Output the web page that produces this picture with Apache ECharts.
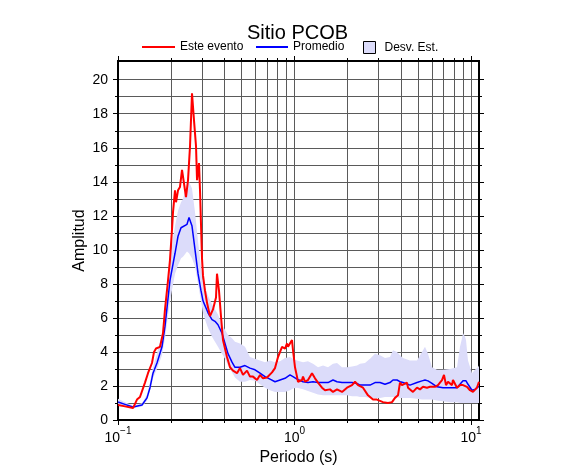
<!DOCTYPE html>
<html>
<head>
<meta charset="utf-8">
<script src="https://cdn.jsdelivr.net/npm/echarts@6/dist/echarts.min.js"></script>
<style>html,body{margin:0;padding:0;background:#fff;}#c{width:586px;height:475px;}</style>
</head>
<body>
<div id="c"></div>
<script>
// ---- Data ----
const titleText = 'Sitio PCOB';
const legendNames = ['Este evento', 'Promedio', 'Desv. Est.'];
const xAxisName = 'Periodo (s)';
const yAxisName = 'Amplitud';

const periodRed = [0.1,0.1096,0.1216,0.1281,0.1332,0.1422,0.1479,0.1558,0.16,0.1642,0.1685,0.173,0.1799,0.1846,0.192,0.197,0.2023,0.2049,0.2104,0.2132,0.2188,0.2245,0.2305,0.2366,0.2428,0.2493,0.2559,0.2626,0.2696,0.2767,0.2804,0.2877,0.2915,0.2953,0.2992,0.3031,0.3111,0.3193,0.3321,0.3453,0.3591,0.3638,0.3734,0.3833,0.3934,0.4145,0.4311,0.4483,0.4723,0.4911,0.5107,0.5381,0.5596,0.5819,0.6131,0.6376,0.663,0.6986,0.7457,0.7755,0.8065,0.8498,0.8838,0.9072,0.919,0.943,0.968,0.9806,1.0065,1.0332,1.0467,1.1027,1.1172,1.1467,1.1925,1.2565,1.273,1.3067,1.3589,1.4318,1.4891,1.5895,1.6527,1.7414,1.8584,1.9838,2.1175,2.2019,2.2899,2.4441,2.609,2.7847,2.9337,3.1727,3.3864,3.5677,3.7101,3.8582,3.96,4.0645,4.1179,4.3384,4.3955,4.5116,4.6915,4.9433,5.1404,5.3456,5.6318,5.8564,6.2514,6.501,6.85,7.0307,7.2168,7.4075,7.8043,7.906,8.3309,8.6633,9.0094,9.4913,9.8696,10.264,10.814,11.1];
const ampRed = [0.88,0.8,0.7,1.2,1.35,2.2,2.75,3.35,4.0,4.2,4.1,4.3,5.1,6.5,8.2,9.4,11.2,12.2,13.5,12.8,13.5,13.7,14.7,13.9,13.1,14.1,16.1,19.2,17.6,16.1,14.1,15.1,13.5,11.5,9.5,8.5,7.6,6.9,6.1,6.5,7.2,8.6,7.6,6.1,4.7,3.7,3.1,2.9,2.75,3.05,2.65,2.9,2.55,2.55,2.35,2.65,2.45,2.5,2.8,3.05,3.7,4.3,4.2,4.5,4.3,4.4,4.7,4.1,3.1,2.55,2.25,2.35,2.55,2.25,2.35,2.75,2.8,2.45,2.2,1.9,1.75,1.8,1.65,1.8,1.65,1.9,2.05,2.25,2.05,1.9,1.45,1.2,1.2,1.05,1.0,1.05,1.3,1.45,2.2,2.05,1.95,2.2,1.9,1.95,1.65,1.9,1.8,1.95,1.9,1.95,1.95,2.05,2.35,2.65,2.05,2.25,2.05,2.35,1.9,2.05,2.05,1.95,1.75,1.65,1.9,2.25];

const periodAvg = [0.1,0.1096,0.1216,0.1368,0.146,0.1518,0.1579,0.1663,0.1775,0.1846,0.197,0.2104,0.2188,0.2275,0.2335,0.246,0.2526,0.2626,0.2732,0.2841,0.2953,0.3031,0.3111,0.3236,0.3409,0.3544,0.3686,0.3883,0.4038,0.42,0.4425,0.4601,0.4911,0.5242,0.5596,0.5973,0.6376,0.6806,0.7264,0.7755,0.8279,0.8838,0.943,0.9806,1.0332,1.1172,1.1925,1.273,1.3589,1.4508,1.5485,1.6527,1.7414,1.8584,1.9838,2.1175,2.26,2.3503,2.5089,2.6778,2.8583,3.051,3.2565,3.476,3.6148,3.808,3.96,4.1179,4.5116,4.9433,5.2767,5.487,5.7058,6.011,6.4167,6.94,7.6028,8.3309,8.6633,8.892,9.0094,9.247,9.369,9.6164,10.131,10.536,10.957,11.1];
const ampAvg = [1.06,0.92,0.76,0.88,1.3,1.9,2.75,3.35,4.3,5.5,8.2,9.8,10.8,11.3,11.2,11.5,11.9,11.4,10.0,8.6,7.6,7.0,6.9,6.3,5.9,5.8,5.6,5.1,4.5,3.9,3.4,3.1,3.1,3.2,3.05,2.95,2.75,2.55,2.4,2.25,2.35,2.45,2.65,2.55,2.4,2.25,2.2,2.25,2.2,2.2,2.2,2.35,2.25,2.2,2.2,2.2,2.15,2.05,2.05,2.05,2.2,2.2,2.1,2.2,2.35,2.35,2.25,2.2,2.05,2.2,2.3,2.35,2.3,2.15,1.95,1.9,1.9,1.9,2.1,2.2,2.3,2.35,2.3,2.1,1.75,1.8,1.95,1.95];
const ampUpper = [1.25,1.05,0.85,0.98,1.5,2.2,3.1,3.9,5.1,6.5,9.6,11.4,12.3,12.8,13.0,13.8,14.0,13.6,12.2,10.5,9.0,8.2,7.8,7.3,6.8,6.5,6.2,5.6,5.3,5.0,4.8,4.6,4.5,4.3,3.7,3.6,3.5,3.4,3.5,3.4,3.45,3.65,3.7,3.6,3.5,3.4,3.45,3.3,3.1,3.2,3.1,3.3,3.35,3.1,3.1,3.15,3.2,3.3,3.35,3.6,3.9,3.8,3.65,3.7,4.1,4.0,3.8,3.65,3.5,3.5,4.0,4.3,3.9,3.1,2.95,2.95,3.0,3.1,4.3,4.8,5.1,4.9,4.7,3.5,2.75,2.95,3.1,3.2];
const ampLower = [0.95,0.82,0.68,0.8,1.15,1.7,2.45,3.0,3.8,4.8,7.0,8.6,9.1,9.5,9.6,9.9,9.8,9.5,9.0,8.0,7.0,6.3,5.9,5.4,4.9,4.6,4.3,3.9,3.6,3.2,2.8,2.5,2.25,2.25,2.35,2.3,2.1,1.9,1.75,1.65,1.65,1.65,1.75,1.85,1.9,1.8,1.7,1.6,1.5,1.45,1.45,1.45,1.45,1.45,1.45,1.4,1.4,1.35,1.35,1.3,1.3,1.3,1.35,1.35,1.35,1.35,1.3,1.3,1.3,1.25,1.2,1.2,1.2,1.2,1.15,1.1,1.05,1.05,1.0,1.0,1.0,1.0,1.0,1.0,1.0,1.0,1.0,1.0];

const xMajorTicks = [0.1, 1, 10];
const xMinorTicks = [0.2,0.3,0.4,0.5,0.6,0.7,0.8,0.9,2,3,4,5,6,7,8,9];
const yMajorTicks = [0,2,4,6,8,10,12,14,16,18,20];
const yMinorTicks = [1,3,5,7,9,11,13,15,17,19];
const periodMin = 0.1, periodMax = 11.1;
const ampMin = 0, ampMax = 21.1;

// ---- Build ----
const L = v => Math.log10(v);
const xMaj = xMajorTicks.map(L);
const xMin = xMinorTicks.map(L);
const FONT = 'Liberation Sans, Arial, Helvetica, sans-serif';
const GRIDC = '#5a5a5a';
const BAND = '#dcdcfa';

function xAxisDef(pos, ticks, len, opts) {
  return Object.assign({
    type: 'value', position: pos, min: L(periodMin), max: L(periodMax),
    axisLine: {show: true, onZero: false, lineStyle: {color: '#000', width: 2}},
    axisTick: {show: true, customValues: ticks, length: len, lineStyle: {color: '#000', width: 1}},
    axisLabel: {show: false},
    splitLine: {show: pos === 'bottom', lineStyle: {color: GRIDC, width: 1}}
  }, opts || {});
}
function yAxisDef(pos, ticks, len, opts) {
  return Object.assign({
    type: 'value', position: pos, min: ampMin, max: ampMax,
    axisLine: {show: true, onZero: false, lineStyle: {color: '#000', width: 2}},
    axisTick: {show: true, customValues: ticks, length: len, lineStyle: {color: '#000', width: 1}},
    axisLabel: {show: false},
    splitLine: {show: pos === 'left', lineStyle: {color: GRIDC, width: 1}}
  }, opts || {});
}

const supLabel = v => {
  const e = Math.round(v);
  const s = e < 0 ? '\u2212' + Math.abs(e) : String(e);
  return '{b|10}{s|' + s + '}';
};

const bandData = periodAvg.map((p, i) => [L(p), ampLower[i], ampUpper[i]]);

const option = {
  animation: false,
  backgroundColor: '#fff',
  textStyle: {fontFamily: FONT},
  title: {text: titleText, left: 247, top: 23, padding: 0,
    textStyle: {fontFamily: FONT, fontSize: 20, fontWeight: 'normal', color: '#000'}},
  legend: [
    {data: [legendNames[0]], left: 142, top: 41, padding: 0, icon: 'rect', itemWidth: 33, itemHeight: 2,
      textStyle: {fontFamily: FONT, fontSize: 12, color: '#000'}},
    {data: [legendNames[1]], left: 256, top: 41, padding: 0, icon: 'rect', itemWidth: 32, itemHeight: 2,
      textStyle: {fontFamily: FONT, fontSize: 12, color: '#000'}},
    {data: [{name: legendNames[2], itemStyle: {color: BAND, borderColor: '#000', borderWidth: 1}}],
      left: 363, top: 41, padding: 0, icon: 'rect', itemWidth: 12, itemHeight: 12,
      textStyle: {fontFamily: FONT, fontSize: 12, color: '#000', padding: [0,0,0,4]}}
  ],
  grid: {left: 118, right: 107, top: 61, bottom: 55, containLabel: false},
  xAxis: [
    xAxisDef('bottom', xMaj, 5, {
      name: xAxisName, nameLocation: 'middle', nameGap: 30,
      nameTextStyle: {fontFamily: FONT, fontSize: 16, color: '#000'},
      axisLabel: {show: true, customValues: xMaj, margin: 6, formatter: supLabel,
        rich: {b: {fontFamily: FONT, fontSize: 14, color: '#000', padding: [5,0,0,0]},
               s: {fontFamily: FONT, fontSize: 10, color: '#000', verticalAlign: 'top'}}}
    }),
    xAxisDef('bottom', xMin, 3),
    xAxisDef('top', xMaj, 5),
    xAxisDef('top', xMin, 3)
  ],
  yAxis: [
    yAxisDef('left', yMajorTicks, 5, {
      name: yAxisName, nameLocation: 'middle', nameGap: 30, nameMoveOverlap: false,
      nameTextStyle: {fontFamily: FONT, fontSize: 16, color: '#000'},
      axisLabel: {show: true, customValues: yMajorTicks, margin: 10, fontFamily: FONT, fontSize: 14, color: '#000'}
    }),
    yAxisDef('left', yMinorTicks, 3),
    yAxisDef('right', yMajorTicks, 5),
    yAxisDef('right', yMinorTicks, 3)
  ],
  series: [
    {type: 'custom', name: legendNames[2], silent: true, clip: true, z: 1,
      color: BAND,
      encode: {x: 0, y: [1, 2]},
      data: [0],
      renderItem: function (params, api) {
        const pts = [];
        for (let i = 0; i < bandData.length; i++) pts.push(api.coord([bandData[i][0], bandData[i][2]]));
        for (let i = bandData.length - 1; i >= 0; i--) pts.push(api.coord([bandData[i][0], bandData[i][1]]));
        return {type: 'polygon', shape: {points: pts}, style: {fill: BAND, stroke: 'none'},
          clipPath: {type: 'rect', shape: {x: params.coordSys.x, y: params.coordSys.y, width: params.coordSys.width, height: params.coordSys.height}}};
      }},
    {type: 'line', name: legendNames[1], symbol: 'none', color: '#0000ff',
      lineStyle: {color: '#0000ff', width: 1.5}, data: periodAvg.map((p,i)=>[L(p), ampAvg[i]]), z: 3},
    {type: 'line', name: legendNames[0], symbol: 'none', color: '#ff0000',
      lineStyle: {color: '#ff0000', width: 2}, data: periodRed.map((p,i)=>[L(p), ampRed[i]]), z: 4}
  ]
};
const chart = echarts.init(document.getElementById('c'), null, {renderer: 'canvas'});
chart.setOption(option);
</script>
</body>
</html>
